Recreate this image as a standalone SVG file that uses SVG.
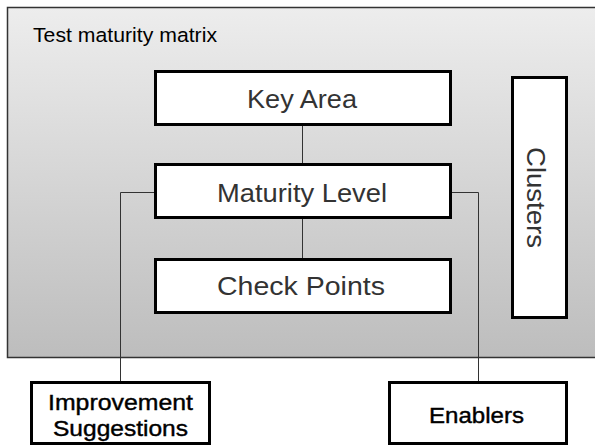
<svg xmlns="http://www.w3.org/2000/svg" width="595" height="445" viewBox="0 0 595 445">
<defs>
<linearGradient id="bg" x1="0" y1="0" x2="0" y2="1">
<stop offset="0" stop-color="#ededed"/>
<stop offset="1" stop-color="#bdbdbd"/>
</linearGradient>
<style>
.box{fill:#fff;stroke:#000;stroke-width:3}
.main{font-family:"Liberation Sans",Arial,sans-serif;font-size:26px;fill:#333;text-anchor:middle}
.ext{font-family:"Liberation Sans",Arial,sans-serif;font-size:22px;fill:#000;stroke:#000;stroke-width:0.4;text-anchor:middle}
.conn{fill:none;stroke:#333;stroke-width:1}
</style>
</defs>
<g id="matrix">
<rect x="7.5" y="7.5" width="600" height="350" fill="url(#bg)" stroke="#333" stroke-width="1.5"/>
<text x="33" y="42" font-family="Liberation Sans, Arial, sans-serif" font-size="20.5" fill="#000" textLength="184" lengthAdjust="spacingAndGlyphs">Test maturity matrix</text>
</g>
<g id="connectors">
<line class="conn" x1="302.5" y1="126" x2="302.5" y2="163"/>
<line class="conn" x1="302.5" y1="219" x2="302.5" y2="258"/>
<polyline class="conn" points="154,192.5 120.5,192.5 120.5,381"/>
<polyline class="conn" points="452,192.5 478.5,192.5 478.5,381"/>
</g>
<g id="key-area">
<rect class="box" x="155.5" y="71.5" width="295" height="53"/>
<text class="main" x="302" y="108" textLength="110" lengthAdjust="spacingAndGlyphs">Key Area</text>
</g>
<g id="maturity-level">
<rect class="box" x="155.5" y="164.5" width="295" height="53"/>
<text class="main" x="302" y="202" textLength="170" lengthAdjust="spacingAndGlyphs">Maturity Level</text>
</g>
<g id="check-points">
<rect class="box" x="155.5" y="259.5" width="295" height="53"/>
<text class="main" x="301" y="295" textLength="168" lengthAdjust="spacingAndGlyphs">Check Points</text>
</g>
<g id="clusters">
<rect class="box" x="512.5" y="77.5" width="54" height="240"/>
<text class="main" transform="translate(527,197.5) rotate(90)" x="0" y="0" textLength="101" lengthAdjust="spacingAndGlyphs">Clusters</text>
</g>
<g id="improvement-suggestions">
<rect class="box" x="31.5" y="382.5" width="178" height="61"/>
<text class="ext" x="120.5" y="410" textLength="145" lengthAdjust="spacingAndGlyphs">Improvement</text>
<text class="ext" x="120.5" y="436" textLength="135" lengthAdjust="spacingAndGlyphs">Suggestions</text>
</g>
<g id="enablers">
<rect class="box" x="389.5" y="382.5" width="177" height="61"/>
<text class="ext" x="476.5" y="423" textLength="95" lengthAdjust="spacingAndGlyphs">Enablers</text>
</g>
</svg>
